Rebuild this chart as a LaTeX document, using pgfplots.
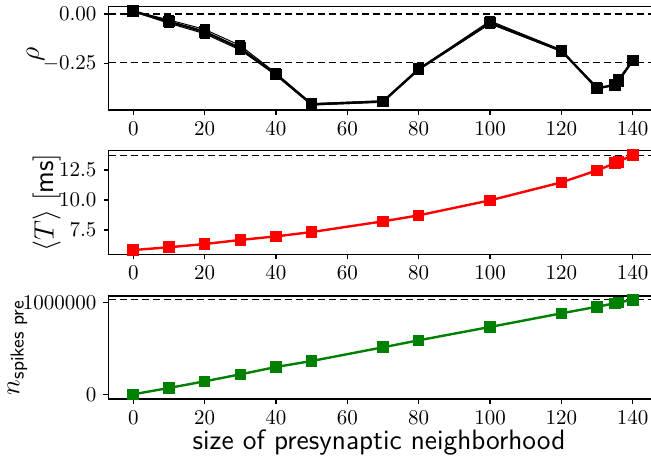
\RequirePackage{fix-cm}
\documentclass[border=0pt]{standalone}
\usepackage{amsmath}
\usepackage{pgfplots}
\pgfplotsset{compat=1.18}
\pgfplotsset{
  panel/.style={
    scale only axis, width=274.6pt, anchor=north west,
    xmin=-6.95, xmax=147,
    xtick={0,20,...,140},
    tick align=outside, tick pos=left,
    major tick length=2.5pt,
    axis line style={line width=0.6pt},
    every tick/.style={black, line width=0.6pt},
    tick label style={font=\fontsize{10.5}{12}\selectfont},
    label style={font=\fontsize{14}{16}\selectfont},
    clip=true,
  },
  ser/.style={line width=1.2pt, mark=square*, mark size=2.3pt, mark options={solid}},
  ref/.style={black, dashed, line width=0.7pt, dash pattern=on 3.5pt off 2pt, forget plot},
}
\begin{document}
\begin{tikzpicture}
\useasboundingbox (0,0) rectangle (325.5pt,-229.5pt);
% ---------- panel 1
\begin{axis}[panel, at={(54.25pt,-3.35pt)}, height=51.65pt,
  ymin=-0.487, ymax=0.037,
  ytick={-0.25,0}, yticklabels={$-0.25$,$0.00$},
  ylabel={$\rho$},
  ylabel style={at={([xshift=-36.5pt, yshift=2pt]rel axis cs:0,0.5)}, anchor=center}]
\addplot[ref] coordinates {(-10,0) (150,0)};
\addplot[ref] coordinates {(-10,-0.245) (150,-0.245)};
\addplot[black, line width=0.5pt, mark=square*, mark size=2.3pt] coordinates {
(0,0.012) (10,-0.047) (20,-0.1) (30,-0.183) (40,-0.31) (50,-0.462) (70,-0.447) (80,-0.283) (100,-0.05) (120,-0.19) (130,-0.37) (135,-0.365) (136,-0.345) (140,-0.236)};
\addplot[black, line width=0.5pt, mark=square*, mark size=2.3pt] coordinates {
(0,0.015) (10,-0.03) (20,-0.078) (30,-0.16) (40,-0.3) (50,-0.455) (70,-0.44) (80,-0.278) (100,-0.035) (120,-0.182) (130,-0.382) (135,-0.355) (136,-0.33) (140,-0.236)};
\addplot[black, ser] coordinates {
(0,0.014) (10,-0.039) (20,-0.09) (30,-0.174) (40,-0.307) (50,-0.458) (70,-0.444) (80,-0.28) (100,-0.044) (120,-0.186) (130,-0.377) (135,-0.36) (136,-0.338) (140,-0.236)};
\end{axis}
% ---------- panel 2
\begin{axis}[panel, at={(54.25pt,-75.35pt)}, height=51.8pt,
  ymin=5.475, ymax=14.11,
  ytick={7.5,10,12.5}, yticklabels={$7.5$,$10.0$,$12.5$},
  ylabel={$\langle T\rangle$ $[$\textsf{ms}$]$},
  ylabel style={at={([xshift=-31pt]rel axis cs:0,0.5)}, anchor=center}]
\addplot[ref] coordinates {(-10,13.69) (150,13.69)};
\addplot[red, ser] coordinates {
(0,5.83) (10,6.06) (20,6.33) (30,6.67) (40,6.97) (50,7.33) (70,8.22) (80,8.72) (100,9.97) (120,11.47) (130,12.47) (135,13.06) (136,13.19) (140,13.75)};
\end{axis}
% ---------- panel 3
\begin{axis}[panel, at={(54.25pt,-148pt)}, height=51.5pt,
  ymin=-51000, ymax=1068500,
  ytick={0,1000000}, yticklabels={$0$,$1000000$},
  scaled y ticks=false,
  ylabel={$n_{\text{\sffamily spikes pre}}$},
  ylabel style={at={([xshift=-45.5pt]rel axis cs:0,0.5)}, anchor=center, font=\fontsize{13.5}{15}\selectfont},
  xlabel={\sffamily size of presynaptic neighborhood},
  xlabel style={at={([xshift=-2pt, yshift=-25pt]rel axis cs:0.5,0)}, anchor=base}]
\addplot[ref] coordinates {(-10,1028000) (150,1028000)};
\addplot[green!50!black, ser] coordinates {
(0,0) (10,69000) (20,141000) (30,217000) (40,297000) (50,362000) (70,511000) (80,587000) (100,732000) (120,880000) (130,952000) (135,989000) (136,1000000) (140,1025000)};
\end{axis}
\end{tikzpicture}
\end{document}
